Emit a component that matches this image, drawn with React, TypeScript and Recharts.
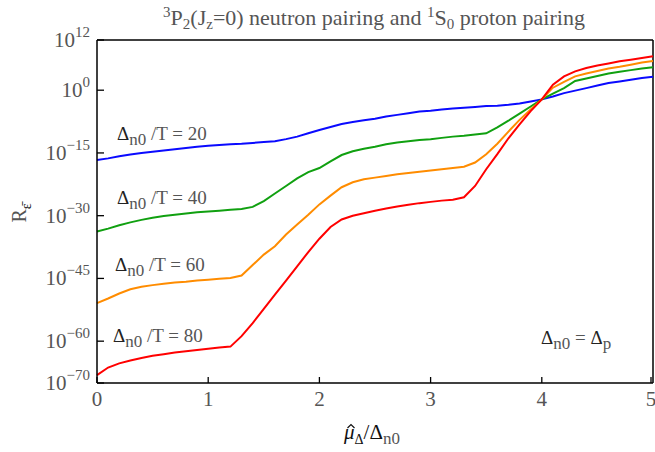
import { LineChart, Line, XAxis, YAxis, ReferenceLine } from "recharts";

// x = mu_hat_Delta / Delta_n0
const muRatio = [
  0, 0.1, 0.2, 0.3, 0.4, 0.5, 0.6, 0.7, 0.8, 0.9,
  1.0, 1.1, 1.2, 1.3, 1.4, 1.5, 1.6, 1.7, 1.8, 1.9,
  2.0, 2.1, 2.2, 2.3, 2.4, 2.5, 2.6, 2.7, 2.8, 2.9,
  3.0, 3.1, 3.2, 3.3, 3.4, 3.5, 3.6, 3.7, 3.8, 3.9,
  4.0, 4.1, 4.2, 4.3, 4.4, 4.5, 4.6, 4.7, 4.8, 4.9, 5.0,
];

// log10 of R for each Delta_n0 / T
const logR20 = [
  -16.7, -16.3, -15.8, -15.4, -15.0, -14.7, -14.4, -14.1, -13.8, -13.5,
  -13.3, -13.1, -12.9, -12.8, -12.6, -12.4, -12.2, -11.7, -11.1, -10.3,
  -9.5, -8.8, -8.1, -7.6, -7.2, -6.8, -6.3, -5.9, -5.5, -5.1,
  -4.9, -4.6, -4.4, -4.2, -4.0, -3.8, -3.7, -3.5, -3.2, -2.7,
  -2.2, -1.5, -0.7, -0.1, 0.5, 1.1, 1.7, 2.1, 2.5, 2.9, 3.2,
];
const logR40 = [
  -33.8, -33.1, -32.3, -31.6, -31.0, -30.5, -30.1, -29.8, -29.5, -29.2,
  -29.0, -28.8, -28.6, -28.4, -27.9, -26.5, -24.7, -22.9, -21.1, -19.6,
  -18.6, -17.0, -15.5, -14.6, -14.0, -13.5, -12.9, -12.5, -12.2, -11.9,
  -11.7, -11.4, -11.1, -10.9, -10.6, -10.3, -8.9, -7.3, -5.6, -3.9,
  -2.2, -0.8, 0.5, 2.2, 2.8, 3.4, 4.0, 4.4, 4.8, 5.2, 5.5,
];
const logR60 = [
  -50.9, -49.8, -48.6, -47.6, -47.0, -46.6, -46.3, -46.0, -45.8, -45.5,
  -45.3, -45.1, -44.9, -44.3, -41.8, -39.3, -37.3, -34.5, -32.1, -29.8,
  -27.3, -25.2, -23.2, -22.0, -21.3, -20.9, -20.5, -20.1, -19.8, -19.5,
  -19.2, -18.9, -18.6, -18.3, -17.3, -15.3, -12.8, -9.9, -7.1, -4.6,
  -2.2, 0.6, 2.0, 3.3, 4.0, 4.6, 5.2, 5.6, 6.1, 6.6, 7.0,
];
const logR80 = [
  -68.1, -66.3, -65.3, -64.6, -64.0, -63.5, -63.1, -62.7, -62.4, -62.1,
  -61.8, -61.5, -61.3, -58.8, -55.7, -52.3, -48.9, -45.5, -42.1, -38.7,
  -35.5, -32.7, -30.9, -30.0, -29.4, -28.8, -28.3, -27.8, -27.4, -27.0,
  -26.7, -26.4, -26.2, -25.6, -22.9, -18.9, -15.3, -11.5, -8.2, -5.0,
  -2.2, 1.3, 3.3, 4.5, 5.3, 5.9, 6.4, 6.9, 7.3, 7.7, 8.1,
];

const xTicks = [0, 1, 2, 3, 4, 5];
const yTicks = [-70, -60, -45, -30, -15, 0, 12];

const data = muRatio.map((x, i) => ({
  x,
  t20: logR20[i],
  t40: logR40[i],
  t60: logR60[i],
  t80: logR80[i],
}));

const FONT = "Liberation Serif, DejaVu Serif, serif";
const GREY = "#555";
const txt = { fontFamily: FONT };

function XTick({ x, y, payload }: any) {
  return (
    <g>
      <line x1={x} y1={y} x2={x} y2={y - 6} stroke="#000" strokeWidth={1.3} />
      <text x={x} y={y + 23} textAnchor="middle" fontSize={21} fill={GREY} style={txt}>
        {payload.value}
      </text>
    </g>
  );
}

function YTick({ x, y, payload }: any) {
  const v = payload.value;
  const exp = v < 0 ? "\u2212" + Math.abs(v) : String(v);
  return (
    <g>
      <line x1={x} y1={y} x2={x + 7} y2={y} stroke="#000" strokeWidth={1.3} />
      <text x={x - 7} y={y + 7} textAnchor="end" fill={GREY} style={txt}>
        <tspan fontSize={21}>10</tspan>
        <tspan fontSize={15} dy={-10}>{exp}</tspan>
      </text>
    </g>
  );
}

function Ratio({ x, y, value }: { x: number; y: number; value: string }) {
  return (
    <text x={x} y={y} fontSize={19} fill={GREY} style={txt}>
      <tspan fill="#222">Δ</tspan>
      <tspan fontSize={17} dy={5}>n0</tspan>
      <tspan dy={-5}>{" /T = " + value}</tspan>
    </text>
  );
}

export default function App() {
  return (
    <div style={{ position: "absolute", left: 0, top: 0, width: 655, height: 452, background: "#fff" }}>
      <LineChart width={655} height={452} data={data} margin={{ top: 40, right: 2, bottom: 39, left: 0 }}>
        <XAxis
          dataKey="x"
          type="number"
          domain={[0, 5]}
          ticks={xTicks}
          height={30}
          tickSize={0}
          tickMargin={0}
          tick={<XTick />}
          tickLine={false}
          axisLine={{ stroke: "#000", strokeWidth: 1.5 }}
        />
        <YAxis
          type="number"
          domain={[-70, 12]}
          ticks={yTicks}
          width={97}
          tickSize={0}
          tickMargin={0}
          tick={<YTick />}
          tickLine={false}
          allowDataOverflow
          axisLine={{ stroke: "#000", strokeWidth: 1.5 }}
        />
        <ReferenceLine y={12} stroke="#000" strokeWidth={1.5} />
        <ReferenceLine x={5} stroke="#000" strokeWidth={1.5} />
        <Line dataKey="t20" type="linear" stroke="#0a0aff" strokeWidth={2} dot={false} isAnimationActive={false} />
        <Line dataKey="t40" type="linear" stroke="#10a010" strokeWidth={2} dot={false} isAnimationActive={false} />
        <Line dataKey="t60" type="linear" stroke="#ff8c00" strokeWidth={2} dot={false} isAnimationActive={false} />
        <Line dataKey="t80" type="linear" stroke="#ff0000" strokeWidth={2} dot={false} isAnimationActive={false} />
      </LineChart>
      <svg
        width={655}
        height={452}
        style={{ position: "absolute", left: 0, top: 0, pointerEvents: "none" }}
      >
        <text x={374} y={25} textAnchor="middle" fontSize={22} fill={GREY} style={txt}>
          <tspan fontSize={15} dy={-8}>3</tspan>
          <tspan dy={8}>P</tspan>
          <tspan fontSize={15} dy={4}>2</tspan>
          <tspan dy={-4}>(J</tspan>
          <tspan fontSize={15} dy={4}>z</tspan>
          <tspan dy={-4}>{"=0) neutron pairing and "}</tspan>
          <tspan fontSize={15} dy={-8}>1</tspan>
          <tspan dy={8}>S</tspan>
          <tspan fontSize={15} dy={4}>0</tspan>
          <tspan dy={-4}>{" proton pairing"}</tspan>
        </text>
        <Ratio x={117} y={140} value="20" />
        <Ratio x={117} y={204} value="40" />
        <Ratio x={115} y={271} value="60" />
        <Ratio x={113} y={342} value="80" />
        <text x={541} y={344} fontSize={19} fill={GREY} style={txt}>
          <tspan fill="#222">Δ</tspan>
          <tspan fontSize={17} dy={5}>n0</tspan>
          <tspan dy={-5}>{" = "}</tspan>
          <tspan fill="#222">Δ</tspan>
          <tspan fontSize={17} dy={5}>p</tspan>
        </text>
        <text x={344} y={439} fontSize={21} fill="#111" style={txt}>
          <tspan fontStyle="italic">μ</tspan>
          <tspan fontSize={14} dy={5}>Δ</tspan>
          <tspan dy={-5}>/Δ</tspan>
          <tspan fontSize={17} dy={5} fill={GREY}>n0</tspan>
        </text>
        <polyline points="347.5,428 351,424.5 354.5,428" fill="none" stroke="#111" strokeWidth={1.2} />
        <g transform="translate(26,213) rotate(-90)">
          <text x={0} y={0} textAnchor="middle" fontSize={20} fill={GREY} style={txt}>
            <tspan>R</tspan>
            <tspan fontSize={14} dy={5} fill="#111">ε̄</tspan>
          </text>
        </g>
      </svg>
    </div>
  );
}
